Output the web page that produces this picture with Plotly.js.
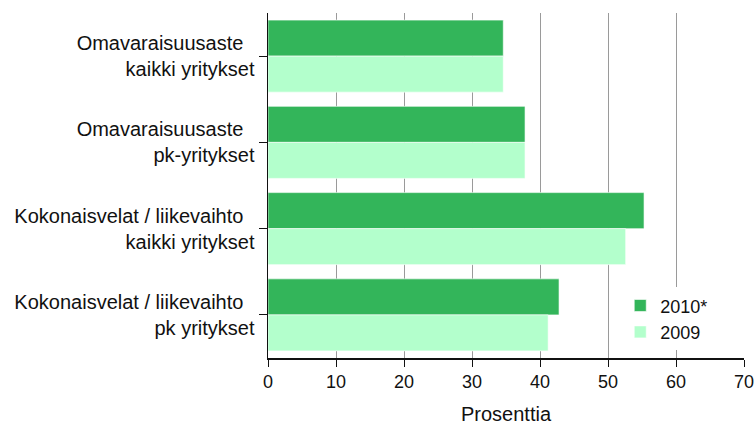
<!DOCTYPE html>
<html>
<head>
<meta charset="utf-8">
<script src="https://cdn.plot.ly/plotly-3.0.1.min.js"></script>
<style>html,body{margin:0;padding:0;background:#fff;}#chart{width:756px;height:426px;}</style>
</head>
<body>
<div id="chart"></div>
<script>
var categories = [
  "Omavaraisuusaste\u00a0\u00a0<br>kaikki yritykset",
  "Omavaraisuusaste\u00a0\u00a0<br>pk-yritykset",
  "Kokonaisvelat / liikevaihto\u00a0\u00a0<br>kaikki yritykset",
  "Kokonaisvelat / liikevaihto\u00a0\u00a0<br>pk yritykset"
];
var values2010 = [34.6, 37.8, 55.3, 42.8];
var values2009 = [34.6, 37.8, 52.6, 41.2];
var seriesNames = ["2010*", "2009"];
var xTicks = [0, 10, 20, 30, 40, 50, 60, 70];

var fam = "Liberation Sans, Arial, sans-serif";
var font = {family: fam, size: 18, color: "#111"};
var bigFont = {family: fam, size: 20, color: "#111"};

var traces = [
  {type: "bar", orientation: "h", name: seriesNames[0], y: categories, x: values2010,
   marker: {color: "#33b55a", line: {color: "rgba(255,255,255,0.6)", width: 1}}, hoverinfo: "x+name"},
  {type: "bar", orientation: "h", name: seriesNames[1], y: categories, x: values2009,
   marker: {color: "#b3ffcc", line: {color: "rgba(255,255,255,0.6)", width: 1}}, hoverinfo: "x+name"}
];

var layout = {
  width: 756, height: 426,
  margin: {l: 268, r: 12, t: 13, b: 68},
  paper_bgcolor: "#fff", plot_bgcolor: "#fff",
  font: font,
  barmode: "group",
  bargap: 0.165,
  bargroupgap: 0,
  showlegend: true,
  legend: {x: 0.74, y: 0.205, xanchor: "left", yanchor: "top", bgcolor: "#fff",
           font: font, borderwidth: 0},
  xaxis: {
    range: [0, 70], tickvals: xTicks, ticktext: xTicks.map(String),
    showgrid: true, gridcolor: "#9a9a9a", gridwidth: 1,
    zeroline: false, showline: true, linecolor: "#111", linewidth: 1.5,
    ticks: "outside", ticklen: 7, tickcolor: "#111", tickwidth: 1,
    tickfont: font,
    title: {text: "Prosenttia", font: bigFont, standoff: 16},
    fixedrange: true
  },
  yaxis: {
    autorange: "reversed", type: "category",
    showgrid: false, zeroline: false, showline: true, linecolor: "#111", linewidth: 1.5,
    ticks: "outside", ticklen: 8, tickcolor: "#111", tickwidth: 1,
    tickfont: bigFont, ticklabelstandoff: 0,
    fixedrange: true
  }
};

Plotly.newPlot("chart", traces, layout, {displayModeBar: false, staticPlot: true});
</script>
</body>
</html>
